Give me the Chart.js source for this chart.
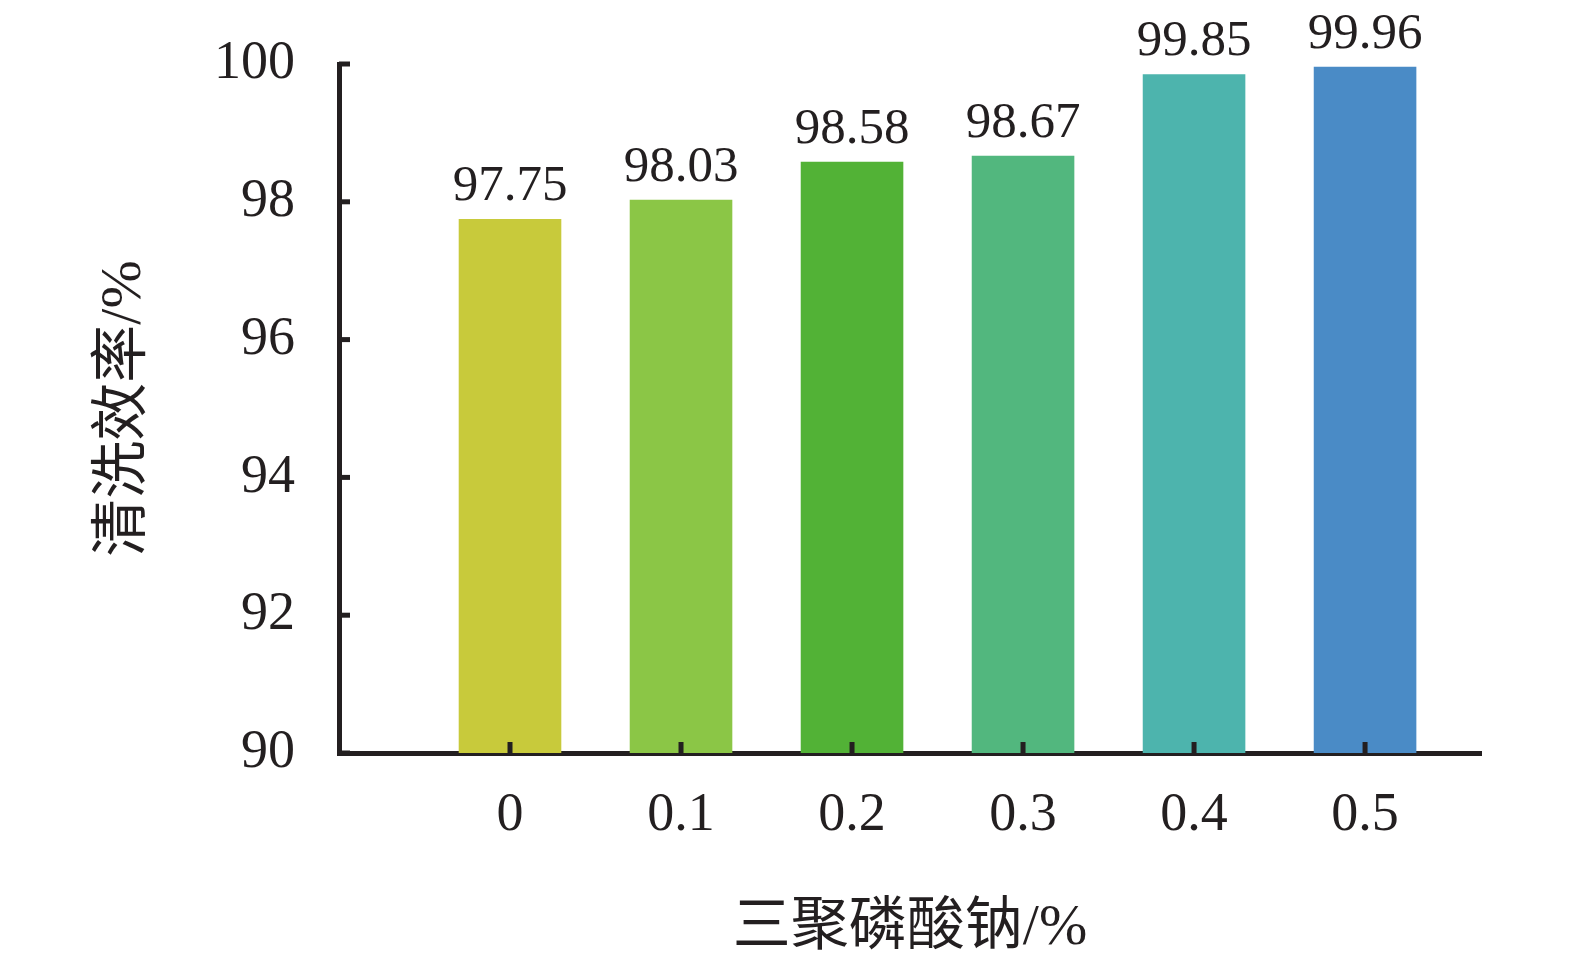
<!DOCTYPE html>
<html>
<head>
<meta charset="utf-8">
<script src="https://cdn.jsdelivr.net/npm/chart.js@4/dist/chart.umd.min.js"></script>
<style>
  html, body { margin: 0; padding: 0; background: #fff; }
  #wrap { width: 1575px; height: 974px; }
</style>
</head>
<body>
<div id="wrap"><canvas id="grafico" width="1575" height="974"></canvas></div>
<script>
// categorias (concentração de tripolifosfato de sódio, %)
const categorias = ['0', '0.1', '0.2', '0.3', '0.4', '0.5'];
// eficiência de limpeza, %
const eficiencia = [97.75, 98.03, 98.58, 98.67, 99.85, 99.96];
// cores das barras
const cores = ['#c8ca3b', '#8bc646', '#52b236', '#52b77e', '#4db4ad', '#4a8bc6'];
// rótulos do eixo y
const ticksY = [90, 92, 94, 96, 98, 100];

const corTexto = '#231f20';
const fonte = "'Liberation Serif', 'Noto Sans CJK SC', serif";

// rótulos de valor acima das barras
const rotulos = {
  id: 'rotulos',
  afterDatasetsDraw(chart) {
    const ctx = chart.ctx;
    const meta = chart.getDatasetMeta(0);
    ctx.save();
    ctx.font = '51px ' + fonte;
    ctx.fillStyle = corTexto;
    ctx.textAlign = 'center';
    ctx.textBaseline = 'alphabetic';
    meta.data.forEach((bar, i) => {
      ctx.fillText(eficiencia[i].toFixed(2), bar.x, bar.y - 19);
    });
    ctx.restore();
  }
};

// marcas de escala voltadas para dentro
const marcas = {
  id: 'marcas',
  afterDraw(chart) {
    const ctx = chart.ctx;
    const area = chart.chartArea;
    const sx = chart.scales.x, sy = chart.scales.y;
    ctx.save();
    ctx.strokeStyle = corTexto;
    ctx.lineWidth = 5;
    ticksY.forEach(v => {
      const y = sy.getPixelForValue(v);
      ctx.beginPath();
      ctx.moveTo(area.left, y);
      ctx.lineTo(area.left + 11, y);
      ctx.stroke();
    });
    categorias.forEach(c => {
      const x = sx.getPixelForValue(Number(c));
      ctx.beginPath();
      ctx.moveTo(x, area.bottom);
      ctx.lineTo(x, area.bottom - 11);
      ctx.stroke();
    });
    ctx.restore();
  }
};

new Chart(document.getElementById('grafico').getContext('2d'), {
  type: 'bar',
  data: {
    datasets: [{
      data: eficiencia.map((v, i) => ({ x: Number(categorias[i]), y: v })),
      backgroundColor: cores,
      barPercentage: 0.6,
      categoryPercentage: 1
    }]
  },
  options: {
    responsive: false,
    animation: false,
    layout: { padding: { left: 90, top: 64, right: 94, bottom: 0 } },
    plugins: { legend: { display: false }, tooltip: { enabled: false } },
    scales: {
      x: {
        type: 'linear',
        offset: false,
        min: -0.1,
        max: 0.5678,
        afterBuildTicks: s => { s.ticks = categorias.map(c => ({ value: Number(c) })); },
        afterFit: s => { s.height = 221; s.paddingLeft = 0; s.paddingRight = 0; },
        grid: { display: false, drawTicks: false },
        border: { display: true, color: corTexto, width: 5 },
        ticks: {
          autoSkip: false,
          maxRotation: 0,
          padding: 30,
          color: corTexto,
          font: { family: fonte, size: 54 },
          callback: (v, i) => categorias[i]
        },
        title: {
          display: true,
          text: '三聚磷酸钠/%',
          color: corTexto,
          font: { family: fonte, size: 58 },
          padding: { top: 0, bottom: 10 }
        }
      },
      y: {
        min: 90,
        max: 100,
        afterBuildTicks: s => { s.ticks = ticksY.map(v => ({ value: v })); },
        afterFit: s => { s.width = 249; s.paddingTop = 0; s.paddingBottom = 0; },
        grid: { display: false, drawTicks: false },
        border: { display: true, color: corTexto, width: 5 },
        ticks: {
          padding: 44,
          color: corTexto,
          font: { family: fonte, size: 54 }
        },
        title: {
          display: true,
          text: '清洗效率/%',
          color: corTexto,
          font: { family: fonte, size: 58 },
          padding: { top: 0, bottom: 0 }
        }
      }
    }
  },
  plugins: [rotulos, marcas]
});
</script>
</body>
</html>
